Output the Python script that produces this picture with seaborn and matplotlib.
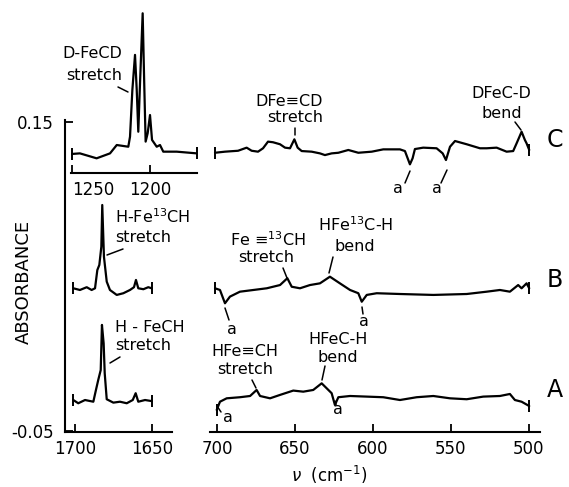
import numpy as np
import pandas as pd
import matplotlib
matplotlib.use("Agg")
import matplotlib.pyplot as plt
from matplotlib.lines import Line2D
import seaborn as sns

# ---------------- data ----------------
# inset, trace C, 1250-1170 cm-1
c_in_nu = [1250.2, 1244.9, 1234.2, 1225.6, 1221.3, 1213.9, 1212.8, 1211.3, 1209.6, 1208.5,
           1207.5, 1206.4, 1204.7, 1203.7, 1202.8, 1201.5, 1200.0, 1198.7, 1195.7, 1193.6,
           1191.5, 1182.9, 1170.1]
c_in_abs = [0.1293, 0.1297, 0.1265, 0.1297, 0.1351, 0.1340, 0.1405, 0.1707, 0.1934, 0.1707,
            0.1437, 0.1750, 0.2203, 0.1750, 0.1373, 0.1427, 0.1545, 0.1384, 0.1340, 0.1351,
            0.1308, 0.1308, 0.1297]

# left panel, traces B and A, 1700-1650 cm-1
b_l_nu = [1701.1, 1696.8, 1692.4, 1689.2, 1687.0, 1685.5, 1684.2, 1682.9, 1682.3, 1681.2,
          1679.4, 1677.3, 1672.9, 1668.6, 1664.3, 1661.7, 1660.4, 1658.9, 1655.6, 1652.4, 1650.2]
b_l_abs = [0.0424, 0.0413, 0.0431, 0.0413, 0.0424, 0.0542, 0.0575, 0.0693, 0.0963, 0.0628,
           0.0467, 0.0413, 0.0381, 0.0392, 0.0413, 0.0431, 0.0478, 0.0424, 0.0418, 0.0431, 0.0424]
a_l_nu = [1701.1, 1697.9, 1693.5, 1688.1, 1686.4, 1684.9, 1683.3, 1682.5, 1681.4, 1680.7,
          1679.4, 1675.1, 1670.8, 1666.4, 1662.5, 1660.6, 1658.9, 1654.5, 1650.2]
a_l_abs = [-0.0299, -0.0320, -0.0299, -0.0310, -0.0234, -0.0169, -0.0105, 0.0187, 0.0068, -0.0126,
           -0.0294, -0.0316, -0.0310, -0.0320, -0.0299, -0.0255, -0.0310, -0.0299, -0.0306]

# right panel, 700-500 cm-1
c_r_nu = [701.3, 694.9, 686.5, 681.0, 677.8, 673.7, 670.5, 667.3, 664.1, 659.6, 656.4, 653.2,
          650.4, 648.3, 645.7, 639.3, 634.0, 630.8, 626.5, 622.2, 615.8, 609.4, 600.8, 593.4,
          582.7, 579.5, 576.3, 574.6, 573.1, 567.8, 559.2, 555.3, 553.2, 550.6, 547.4, 539.9,
          531.4, 527.1, 520.7, 514.3, 510.1, 507.9, 504.7, 502.6, 501.5, 499.8]
c_r_abs = [0.1301, 0.1308, 0.1314, 0.1334, 0.1314, 0.1308, 0.1330, 0.1373, 0.1369, 0.1356, 0.1334, 0.1330,
           0.1388, 0.1334, 0.1312, 0.1308, 0.1297, 0.1286, 0.1297, 0.1301, 0.1319, 0.1301, 0.1308, 0.1323,
           0.1323, 0.1312, 0.1226, 0.1265, 0.1325, 0.1334, 0.1330, 0.1297, 0.1254, 0.1340, 0.1377, 0.1356,
           0.1330, 0.1330, 0.1334, 0.1308, 0.1312, 0.1362, 0.1437, 0.1384, 0.1362, 0.1319]
b_r_nu = [701.3, 698.1, 694.9, 691.7, 685.3, 676.7, 668.1, 659.6, 654.9, 652.1, 646.8, 640.4,
          634.0, 627.6, 621.2, 614.7, 609.4, 607.2, 604.0, 597.6, 582.7, 561.3, 539.9, 527.1,
          518.6, 512.2, 506.9, 504.7, 501.5, 499.8]
b_r_abs = [0.0424, 0.0413, 0.0327, 0.0370, 0.0402, 0.0413, 0.0424, 0.0445, 0.0489, 0.0434, 0.0424, 0.0445,
           0.0456, 0.0499, 0.0456, 0.0413, 0.0392, 0.0337, 0.0381, 0.0392, 0.0387, 0.0381, 0.0387, 0.0402,
           0.0413, 0.0402, 0.0445, 0.0424, 0.0456, 0.0424]
a_r_nu = [700.2, 698.1, 693.8, 685.3, 678.8, 674.6, 672.4, 666.0, 659.6, 651.1, 644.7, 638.3,
          632.9, 629.7, 626.5, 624.4, 622.2, 614.7, 604.0, 593.4, 582.7, 572.0, 561.3, 550.6,
          539.9, 529.3, 518.6, 512.2, 509.0, 504.7, 499.8]
a_r_abs = [-0.0363, -0.0310, -0.0288, -0.0281, -0.0273, -0.0234, -0.0273, -0.0288, -0.0266, -0.0238,
           -0.0245, -0.0234, -0.0191, -0.0223, -0.0255, -0.0331, -0.0281, -0.0273, -0.0277, -0.0281,
           -0.0299, -0.0281, -0.0273, -0.0288, -0.0294, -0.0277, -0.0273, -0.0260, -0.0299, -0.0310, -0.0338]

y_ticks = [-0.05, 0.15]
y_tick_labels = ["-0.05", "0.15"]
left_ticks = [1700, 1650]
inset_ticks = [1250, 1200]
right_ticks = [700, 650, 600, 550, 500]
trace_names = ["C", "B", "A"]

# ---------------- figure ----------------
sns.set_style("ticks")
plt.rcParams["font.family"] = ["DejaVu Sans"]
plt.rcParams["mathtext.fontset"] = "dejavusans"
plt.rcParams["text.color"] = "black"
plt.rcParams["xtick.color"] = "black"
plt.rcParams["ytick.color"] = "black"
plt.rcParams["xtick.labelcolor"] = "black"
plt.rcParams["ytick.labelcolor"] = "black"
plt.rcParams["axes.labelcolor"] = "black"

W, H = 569, 487
fig = plt.figure(figsize=(W / 100, H / 100), dpi=100)
fig.patch.set_facecolor("white")


def rect(x0, y0, x1, y1):
    return [x0 / W, 1 - y1 / H, (x1 - x0) / W, (y1 - y0) / H]


def P(x, y):
    return x / W, 1 - y / H


ax_l = fig.add_axes(rect(65, 120, 172, 432))
ax_r = fig.add_axes(rect(210, 120, 540, 432))
ax_in = fig.add_axes(rect(71, 0, 197, 173))

YLIM = (-0.0506, 0.1513)
for ax in (ax_l, ax_r, ax_in):
    ax.set_facecolor("none")
    for s in ("top", "right"):
        ax.spines[s].set_visible(False)
    for s in ax.spines.values():
        s.set_linewidth(1.5)
        s.set_color("black")

ax_l.set_xlim(1706.5, 1637.0)
ax_r.set_xlim(704.5, 492.9)
ax_in.set_xlim(1250.6, 1169.9)
ax_l.set_ylim(*YLIM)
ax_r.set_ylim(*YLIM)
ax_in.set_ylim(0.1170, 0.2289)

LW = 1.6


def trace(ax, nu, ab):
    sns.lineplot(x=nu, y=ab, ax=ax, color="black", lw=LW, estimator=None, sort=False)
    ax.plot([nu[0], nu[-1]], [ab[0], ab[-1]], ls="none", marker="|", ms=8, mew=1.4,
            color="black", clip_on=False)


trace(ax_in, c_in_nu, c_in_abs)
trace(ax_l, b_l_nu, b_l_abs)
trace(ax_l, a_l_nu, a_l_abs)
trace(ax_r, c_r_nu, c_r_abs)
trace(ax_r, b_r_nu, b_r_abs)
trace(ax_r, a_r_nu, a_r_abs)

TICKFS = 12
# left axes
ax_l.set_yticks(y_ticks)
ax_l.set_yticklabels(y_tick_labels)
ax_l.set_xticks(left_ticks)
ax_l.set_xticklabels([str(t) for t in left_ticks])
ax_l.tick_params(axis="both", direction="in", length=6, width=1.3, labelsize=TICKFS, pad=6)
ax_l.tick_params(axis="y", pad=8)
ax_l.set_xlabel("")
ax_l.set_ylabel("")

# right axes
ax_r.spines["left"].set_visible(False)
ax_r.set_yticks([])
ax_r.set_xticks(right_ticks)
ax_r.set_xticklabels([str(t) for t in right_ticks])
ax_r.tick_params(axis="x", direction="in", length=6, width=1.3, labelsize=TICKFS, pad=6)
ax_r.set_xlabel("")
ax_r.set_ylabel("")

# inset axes
ax_in.spines["left"].set_visible(False)
ax_in.set_yticks([])
ax_in.set_xticks(inset_ticks)
ax_in.set_xticklabels([str(t) for t in inset_ticks])
ax_in.tick_params(axis="x", direction="in", length=6, width=1.3, labelsize=TICKFS, pad=6)
ax_in.get_xticklabels()[0].set_horizontalalignment("left")
ax_in.set_xlabel("")
ax_in.set_ylabel("")

# axis titles
fig.text(*P(24, 282), "ABSORBANCE", rotation=90, ha="center", va="center", fontsize=13)
fig.text(*P(329, 475), r"$\nu$  (cm$^{-1}$)", ha="center", va="center", fontsize=12)

# trace letters
for name, yy in zip(trace_names, [140, 280, 390]):
    fig.text(*P(555, yy), name, ha="center", va="center", fontsize=17)

AFS = 11.5


def label(x, y, s, ha="center", fs=AFS):
    fig.text(*P(x, y), s, ha=ha, va="center", fontsize=fs)


def leader(x1, y1, x2, y2):
    (a, b), (c, d) = P(x1, y1), P(x2, y2)
    fig.add_artist(Line2D([a, c], [b, d], transform=fig.transFigure, color="black", lw=1.1))


# inset annotation
label(122, 54, "D-FeCD", ha="right")
label(122, 75, "stretch", ha="right")
leader(118, 87, 128, 92)

# left panel annotations
label(115, 217, r"H-Fe$^{13}$CH", ha="left")
label(115, 238, "stretch", ha="left")
leader(123, 249, 107, 255)
label(115, 327, "H - FeCH", ha="left")
label(115, 346, "stretch", ha="left")
leader(120, 357, 110, 363)

# right C
label(289, 102, "DFe\u2261CD")
label(295, 118, "stretch")
leader(295, 128, 295, 135)
label(501, 94, "DFeC-D")
label(502, 113, "bend")
leader(515, 122, 521, 130)
label(398, 189, "a")
label(437, 189, "a")
leader(410, 171, 405, 183)
leader(447, 170, 441, 183)

# right B
label(268, 240, "Fe \u2261$^{13}$CH")
label(266, 257, "stretch")
leader(283, 268, 287, 278)
label(356, 225, r"HFe$^{13}$C-H")
label(355, 246, "bend")
leader(333, 257, 329, 273)
label(232, 329, "a")
leader(225, 308, 229, 320)
label(364, 322, "a")
leader(362, 307, 363, 314)

# right A
label(245, 351, "HFe\u2261CH")
label(245, 370, "stretch")
leader(252, 380, 256, 388)
label(338, 339, "HFeC-H")
label(338, 358, "bend")
leader(325, 366, 322, 380)
label(228, 417, "a")
leader(217, 406, 221, 412)
label(338, 410, "a")
leader(335, 401, 336, 405)

fig.savefig("out.png", dpi=100, facecolor="white")
